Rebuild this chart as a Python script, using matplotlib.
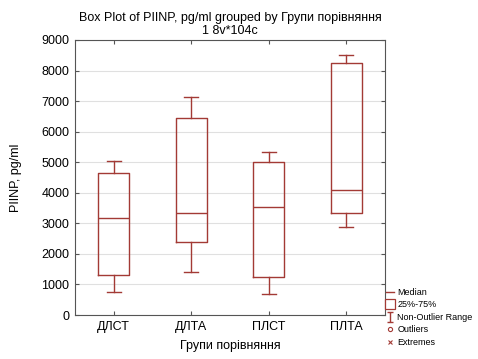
import matplotlib
matplotlib.use("Agg")
import matplotlib.pyplot as plt
from matplotlib.lines import Line2D
from matplotlib.path import Path

plt.rcParams['font.family'] = ['Liberation Sans Narrow', 'Liberation Sans', 'DejaVu Sans']

categories = ['ДЛСТ', 'ДЛТА', 'ПЛСТ', 'ПЛТА']
whisker_low = [760, 1410, 690, 2880]
q1 = [1300, 2390, 1250, 3340]
median = [3190, 3340, 3550, 4080]
q3 = [4640, 6460, 5000, 8250]
whisker_high = [5050, 7140, 5350, 8520]
yticks = [0, 1000, 2000, 3000, 4000, 5000, 6000, 7000, 8000, 9000]

red = '#a33a35'

fig = plt.figure(figsize=(4.78, 3.59), dpi=100)
ax = fig.add_axes([75/478, 44/359, 310/478, 275/359])

stats = []
for i, c in enumerate(categories):
    stats.append(dict(label=c, whislo=whisker_low[i], q1=q1[i], med=median[i],
                      q3=q3[i], whishi=whisker_high[i], fliers=[]))

ax.bxp(stats, positions=range(1, len(categories) + 1), widths=0.4, showfliers=False,
       boxprops=dict(color=red, linewidth=1.0),
       medianprops=dict(color=red, linewidth=1.0),
       whiskerprops=dict(color=red, linewidth=1.0),
       capprops=dict(color=red, linewidth=1.0),
       capwidths=0.18)

ax.set_xlim(0.5, 4.5)
ax.set_ylim(0, 9000)
ax.set_yticks(yticks)
ax.set_yticklabels([str(v) for v in yticks], fontsize=9)
ax.set_xticks(range(1, len(categories) + 1))
ax.set_xticklabels(categories, fontsize=9)
ax.yaxis.grid(True, color='#e0e0e0', linewidth=0.8)
ax.set_axisbelow(True)
ax.tick_params(direction='in', top=True, right=True, length=3, color='#555555', pad=4)
for s in ax.spines.values():
    s.set_color('#555555')
    s.set_linewidth(0.8)

ax.set_ylabel('PIINP, pg/ml', fontsize=9, labelpad=14)
ax.set_xlabel('Групи порівняння', fontsize=9, labelpad=5)
ax.set_title('Box Plot of PIINP, pg/ml grouped by Групи порівняння\n1 8v*104c',
             fontsize=9, pad=4, linespacing=1.2)

imark = Path([(-0.6, 1), (0.6, 1), (0, 1), (0, -1), (-0.6, -1), (0.6, -1)],
             [Path.MOVETO, Path.LINETO, Path.MOVETO, Path.LINETO, Path.MOVETO, Path.LINETO])
handles = [
    Line2D([], [], color=red, linewidth=1.0),
    Line2D([], [], linestyle='none', marker='s', markersize=7, markerfacecolor='white',
           markeredgecolor=red, markeredgewidth=0.9),
    Line2D([], [], linestyle='none', marker=imark, markersize=7, color=red, markeredgewidth=1.0),
    Line2D([], [], linestyle='none', marker='o', markersize=3, markerfacecolor='white',
           markeredgecolor=red, markeredgewidth=0.8),
    Line2D([], [], linestyle='none', marker='x', markersize=3, color=red, markeredgewidth=0.8),
]
labels = ['Median', '25%-75%', 'Non-Outlier Range', 'Outliers', 'Extremes']
fig.legend(handles, labels, loc='upper left', bbox_to_anchor=(386/478, 1 - 288/359),
           frameon=False, fontsize=6.5, handlelength=0.9, handletextpad=0.35,
           labelspacing=0.38, borderpad=0, borderaxespad=0)

fig.savefig('out.png', dpi=100)
